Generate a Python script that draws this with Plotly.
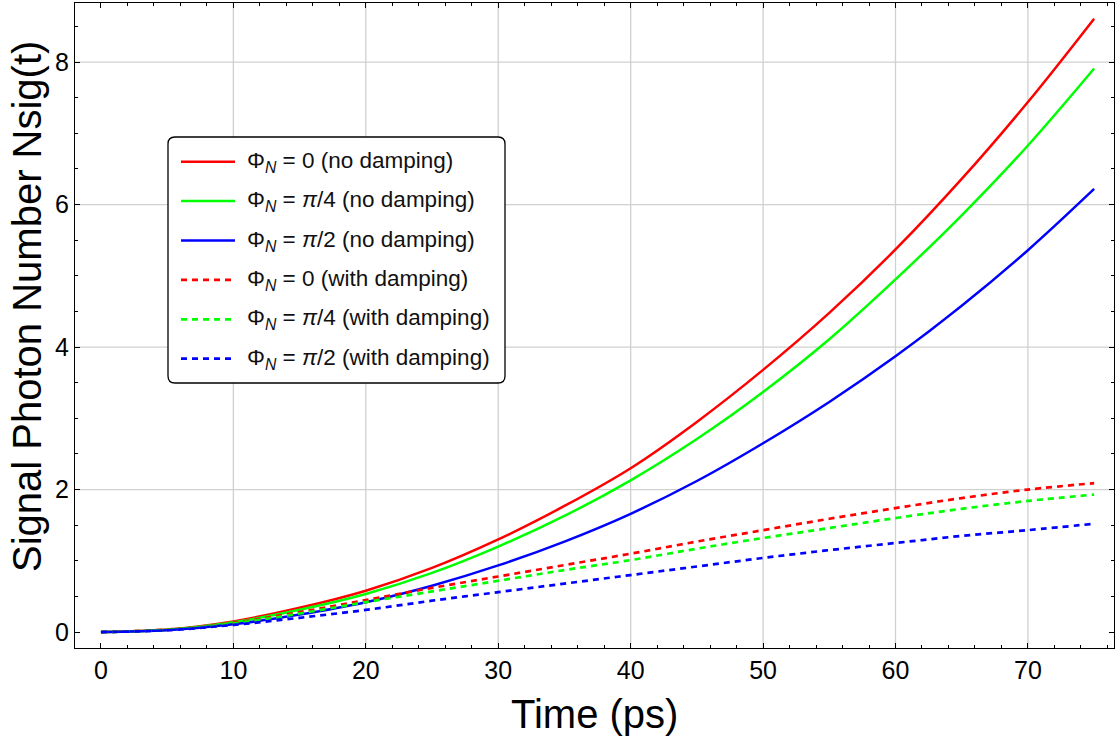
import plotly.graph_objects as go

# ---------------- data ----------------
time_ps = [0, 5, 10, 15, 20, 25, 30, 35, 40, 45, 50, 55, 60, 65, 70, 75]

nsig_phi0_nodamp = [0, 0.035, 0.15, 0.34, 0.58, 0.90, 1.30, 1.77, 2.30, 2.95, 3.68, 4.48, 5.37, 6.36, 7.44, 8.61]
nsig_phi4_nodamp = [0, 0.032, 0.138, 0.313, 0.535, 0.83, 1.20, 1.63, 2.13, 2.71, 3.37, 4.11, 4.95, 5.85, 6.83, 7.91]
nsig_phi2_nodamp = [0, 0.025, 0.108, 0.245, 0.418, 0.65, 0.935, 1.27, 1.66, 2.12, 2.65, 3.23, 3.87, 4.58, 5.36, 6.22]

nsig_phi0_damp = [0, 0.035, 0.13, 0.28, 0.45, 0.62, 0.78, 0.94, 1.10, 1.27, 1.43, 1.59, 1.74, 1.88, 2.00, 2.09]
nsig_phi4_damp = [0, 0.032, 0.12, 0.26, 0.42, 0.57, 0.72, 0.87, 1.01, 1.17, 1.32, 1.46, 1.60, 1.73, 1.84, 1.93]
nsig_phi2_damp = [0, 0.025, 0.10, 0.20, 0.31, 0.44, 0.56, 0.68, 0.80, 0.92, 1.04, 1.15, 1.25, 1.35, 1.43, 1.52]

series_labels = [
    "Φ<sub><i>N</i></sub> = 0 (no damping)",
    "Φ<sub><i>N</i></sub> = <i>π</i>/4 (no damping)",
    "Φ<sub><i>N</i></sub> = <i>π</i>/2 (no damping)",
    "Φ<sub><i>N</i></sub> = 0 (with damping)",
    "Φ<sub><i>N</i></sub> = <i>π</i>/4 (with damping)",
    "Φ<sub><i>N</i></sub> = <i>π</i>/2 (with damping)",
]
series_values = [nsig_phi0_nodamp, nsig_phi4_nodamp, nsig_phi2_nodamp,
                 nsig_phi0_damp, nsig_phi4_damp, nsig_phi2_damp]
series_colors = ["#ff0000", "#00ff00", "#0000ff", "#ff0000", "#00ff00", "#0000ff"]
series_dash = ["solid", "solid", "solid", "6px,5px", "6px,5px", "6px,5px"]

x_ticks = [0, 10, 20, 30, 40, 50, 60, 70]
y_ticks = [0, 2, 4, 6, 8]
x_grid = [10, 20, 30, 40, 50, 60, 70]
y_grid = [2, 4, 6, 8]

x_title = "Time (ps)"
y_title = "Signal Photon Number Nsig(t)"

# ---------------- figure ----------------
FONT = "Liberation Sans, Arial, Helvetica, sans-serif"
W, H = 1115, 740
ML, MR, MT, MB = 75, 1, 3, 92
PW, PH = W - ML - MR, H - MT - MB

def px_x(p):
    return (p - ML) / PW

def px_y(p):
    return (H - MB - p) / PH

fig = go.Figure()
for vals, lab, col, dash in zip(series_values, series_labels, series_colors, series_dash):
    fig.add_trace(go.Scatter(
        x=time_ps, y=vals, mode="lines", name=lab,
        line=dict(color=col, width=2.5 if dash == "solid" else 2.7, dash=dash, shape="spline"),
        showlegend=False, hoverinfo="skip",
    ))

shapes = []
for gx in x_grid:
    shapes.append(dict(type="line", xref="x", yref="paper", x0=gx, x1=gx, y0=0, y1=1,
                       line=dict(color="#d0d0d0", width=1.3), layer="below"))
for gy in y_grid:
    shapes.append(dict(type="line", xref="paper", yref="y", x0=0, x1=1, y0=gy, y1=gy,
                       line=dict(color="#d0d0d0", width=1.3), layer="below"))

# legend box (manual, rounded)
bx0, bx1, by0, by1, r = 168, 505, 137, 383, 7
x0, x1 = px_x(bx0), px_x(bx1)
y0, y1 = px_y(by1), px_y(by0)
rx, ry = r / PW, r / PH
path = (f"M {x0+rx},{y1} L {x1-rx},{y1} Q {x1},{y1} {x1},{y1-ry} "
        f"L {x1},{y0+ry} Q {x1},{y0} {x1-rx},{y0} L {x0+rx},{y0} "
        f"Q {x0},{y0} {x0},{y0+ry} L {x0},{y1-ry} Q {x0},{y1} {x0+rx},{y1} Z")
shapes.append(dict(type="path", xref="paper", yref="paper", path=path,
                   line=dict(color="#000000", width=1.3), fillcolor="white", layer="above"))

annotations = []
row0, row_step = 161.7, 39.4
for i, (lab, col, dash) in enumerate(zip(series_labels, series_colors, series_dash)):
    yy = px_y(row0 + i * row_step)
    shapes.append(dict(type="line", xref="paper", yref="paper",
                       x0=px_x(181), x1=px_x(235), y0=yy, y1=yy,
                       line=dict(color=col, width=2.5 if dash == "solid" else 2.7, dash=dash),
                       layer="above"))
    annotations.append(dict(xref="paper", yref="paper", x=px_x(245), y=yy,
                            xanchor="left", yanchor="middle", showarrow=False,
                            text=lab, font=dict(family=FONT, size=22.5, color="#111111")))

annotations.append(dict(xref="paper", yref="paper", x=0.5, y=px_y(714),
                        xanchor="center", yanchor="middle", showarrow=False,
                        text=x_title, font=dict(family=FONT, size=40, color="black")))
annotations.append(dict(xref="paper", yref="paper", x=px_x(27), y=px_y(307),
                        xanchor="center", yanchor="middle", showarrow=False, textangle=-90,
                        text=y_title, font=dict(family=FONT, size=40, color="black")))

axis_common = dict(
    showline=True, linecolor="black", linewidth=1.3, mirror="allticks",
    ticks="inside", ticklen=5, tickwidth=1.1, tickcolor="black",
    showgrid=False, zeroline=False, automargin=False,
    tickfont=dict(family=FONT, size=25, color="black"),
)

fig.update_layout(
    width=W, height=H,
    margin=dict(l=ML, r=MR, t=MT, b=MB, autoexpand=False),
    paper_bgcolor="white", plot_bgcolor="white",
    xaxis=dict(range=[-1.96, 76.5], tickvals=x_ticks,
               minor=dict(dtick=2, tick0=0, ticks="inside", ticklen=3, tickcolor="black", showgrid=False),
               **axis_common),
    yaxis=dict(range=[-0.224, 8.83], tickvals=y_ticks,
               minor=dict(dtick=0.5, tick0=0, ticks="inside", ticklen=3, tickcolor="black", showgrid=False),
               **axis_common),
    shapes=shapes,
    annotations=annotations,
    showlegend=False,
)

fig.write_html("out.html", config={"displayModeBar": False},
               post_script="document.body.style.margin='0';document.body.style.padding='0';")
